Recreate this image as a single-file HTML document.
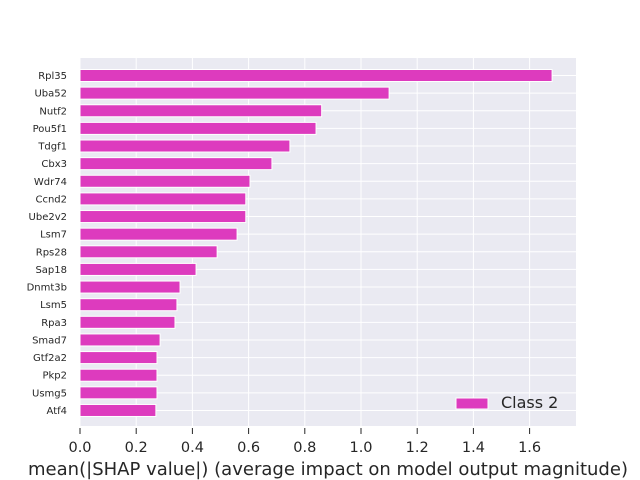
<!DOCTYPE html>
<html><head><meta charset="utf-8"><style>
body{margin:0;background:#fff}
svg{display:block;font-family:"DejaVu Sans","Liberation Sans",sans-serif}
</style></head><body>
<svg id="chart" width="640" height="480">
<rect x="80" y="58" width="496" height="368" fill="#eaeaf2"/>
<g id="grid"></g><g id="bars"></g><g id="ylab"></g><g id="xax"></g>
<text x="328" y="475" text-anchor="middle" font-size="17.5" textLength="600" lengthAdjust="spacingAndGlyphs" fill="#262626">mean(|SHAP value|) (average impact on model output magnitude)</text>
<g>
<rect x="456" y="398" width="32" height="11" fill="#dd3bbe" stroke="#fff" stroke-width="1"/>
<text x="501" y="408" font-size="16" fill="#262626">Class 2</text>
</g>
</svg>
<script>
const features=["Rpl35","Uba52","Nutf2","Pou5f1","Tdgf1","Cbx3","Wdr74","Ccnd2","Ube2v2","Lsm7","Rps28","Sap18","Dnmt3b","Lsm5","Rpa3","Smad7","Gtf2a2","Pkp2","Usmg5","Atf4"];
const values=[1.68,1.10,0.86,0.84,0.747,0.683,0.605,0.59,0.59,0.559,0.488,0.413,0.356,0.345,0.338,0.285,0.274,0.274,0.274,0.27];
const xticks=[0,0.2,0.4,0.6,0.8,1.0,1.2,1.4,1.6];
const xtickLabels=["0.0","0.2","0.4","0.6","0.8","1.0","1.2","1.4","1.6"];
const NS="http://www.w3.org/2000/svg";
const x=v=>80+v*281;
const y=i=>75.5+i*17.63;
function mk(t,a,p){const e=document.createElementNS(NS,t);for(const k in a)e.setAttribute(k,a[k]);p.appendChild(e);return e;}
const g=document.getElementById('grid'),b=document.getElementById('bars'),yl=document.getElementById('ylab'),xa=document.getElementById('xax');
xticks.forEach((t,i)=>{
 const l=mk('line',{x1:x(t),x2:x(t),y1:58,y2:426,stroke:'#fff','stroke-width':1},g);
 
 
 const tk=mk('line',{x1:x(t),x2:x(t),y1:428,y2:434,stroke:'#262626','stroke-width':1},xa);
 
 
 const tx=mk('text',{x:x(t),y:452,'text-anchor':'middle','font-size':14.5,fill:'#262626'},xa);
 tx.textContent=xtickLabels[i];
 
 
});
features.forEach((f,i)=>{
 const l=mk('line',{x1:80,x2:576,y1:y(i),y2:y(i),stroke:'#fff','stroke-width':1},g);
 
 
 const r=mk('rect',{x:80,y:y(i)-6,width:x(values[i])-80,height:12,fill:'#dd3bbe',stroke:'#fff','stroke-width':1},b);
 
 
 const t=mk('text',{x:67,y:y(i)+3.5,'text-anchor':'end','font-size':10,fill:'#262626'},yl);
 t.textContent=f;
 
 
});
</script>
</body></html>
